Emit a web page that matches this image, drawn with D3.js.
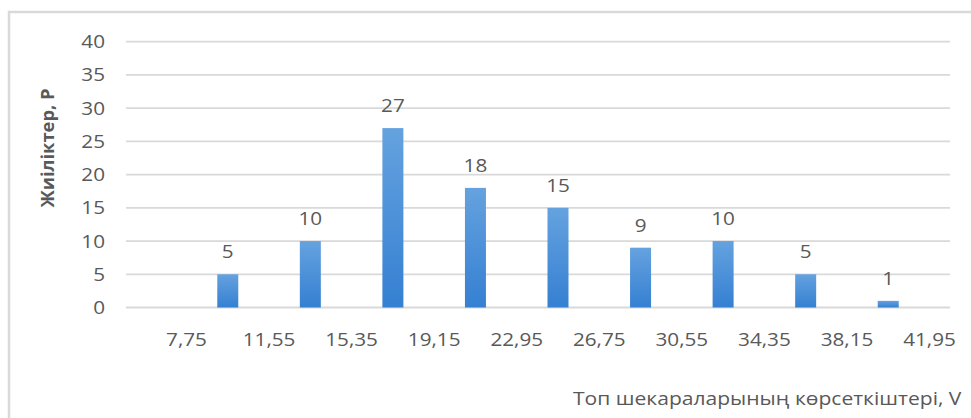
<!DOCTYPE html>
<html>
  <head>
    <meta charset="utf-8">
    <script src="https://d3js.org/d3.v7.min.js"></script>
  </head>
  <body style="margin:0">
    <svg class="chart" width="971" height="418"></svg>
    <script>
// Data
var bounds = [7.75, 11.55, 15.35, 19.15, 22.95, 26.75, 30.55, 34.35, 38.15, 41.95];
var tickLabels = ["7,75", "11,55", "15,35", "19,15", "22,95", "26,75", "30,55", "34,35", "38,15", "41,95"];
var freq = [5, 10, 27, 18, 15, 9, 10, 5, 1];
var yTicks = [0, 5, 10, 15, 20, 25, 30, 35, 40];

var svg = d3.select("svg");
var sx = 1.15; // the original text is a little stretched sideways

// Frame of chart area
svg.append("path")
    .attr("d", "M9,418V12H971")
    .attr("fill", "none")
    .attr("stroke", "#d9d9d9")
    .attr("stroke-width", 2.5);

// Scales
var x = d3.scaleLinear()
    .domain([bounds[0], bounds[bounds.length - 1]])
    .range([186.5, 929.5]);
var y = d3.scaleLinear()
    .domain([0, 40])
    .range([307.5, 41.7]);

var plotLeft = 126, plotRight = 950;

// Gradient for bars
var grad = svg.append("defs").append("linearGradient")
    .attr("id", "barGrad")
    .attr("x1", 0).attr("y1", 0).attr("x2", 0).attr("y2", 1);
grad.append("stop").attr("offset", "0%").attr("stop-color", "#65a2df");
grad.append("stop").attr("offset", "100%").attr("stop-color", "#3580d2");

// Grid
svg.append("g")
    .selectAll("line")
    .data(yTicks)
    .enter().append("line")
        .attr("x1", plotLeft)
        .attr("x2", plotRight)
        .attr("y1", d => y(d))
        .attr("y2", d => y(d))
        .attr("stroke", "#d9d9d9")
        .attr("stroke-width", 1.8);

// Y tick labels
svg.append("g")
    .selectAll("text")
    .data(yTicks)
    .enter().append("text")
        .attr("transform", d => "translate(105," + y(d) + ") scale(" + sx + ",1)")
        .attr("dy", "0.36em")
        .attr("text-anchor", "end")
        .attr("class", "tick")
        .text(d => d);

// X tick labels
svg.append("g")
    .selectAll("text")
    .data(bounds)
    .enter().append("text")
        .attr("transform", d => "translate(" + x(d) + ",346) scale(" + sx + ",1)")
        .attr("text-anchor", "middle")
        .attr("class", "tick")
        .text((d, i) => tickLabels[i]);

// Bars (centred on interval midpoints)
var barW = 21;
var mids = freq.map((f, i) => (bounds[i] + bounds[i + 1]) / 2);
svg.append("g")
    .selectAll("rect")
    .data(freq)
    .enter().append("rect")
        .attr("x", (d, i) => x(mids[i]) - barW / 2)
        .attr("y", d => y(d))
        .attr("width", barW)
        .attr("height", d => y(0) - y(d))
        .attr("fill", "url(#barGrad)");

// Data labels
svg.append("g")
    .selectAll("text")
    .data(freq)
    .enter().append("text")
        .attr("transform", (d, i) => "translate(" + x(mids[i]) + "," + (y(d) - 16) + ") scale(" + sx + ",1)")
        .attr("text-anchor", "middle")
        .attr("class", "tick")
        .text(d => d);

// Axis titles
svg.append("text")
    .attr("transform", "translate(54,148) rotate(-90) scale(1.08,1)")
    .attr("text-anchor", "middle")
    .attr("class", "title")
    .text("Жиіліктер, Р");

svg.append("text")
    .attr("transform", "translate(573,405) scale(1.17,1)")
    .attr("class", "xtitle")
    .text("Топ шекараларының көрсеткіштері, V");
</script>
  </body>
</html>

<style>
  .tick {
      font-family: "Open Sans", sans-serif;
      font-size: 18px;
      fill: #595959;
  }
  .title {
      font-family: "Open Sans", sans-serif;
      font-size: 17px;
      font-weight: bold;
      fill: #595959;
  }
  .xtitle {
      font-family: "Open Sans", sans-serif;
      font-size: 18px;
      fill: #595959;
  }
</style>
